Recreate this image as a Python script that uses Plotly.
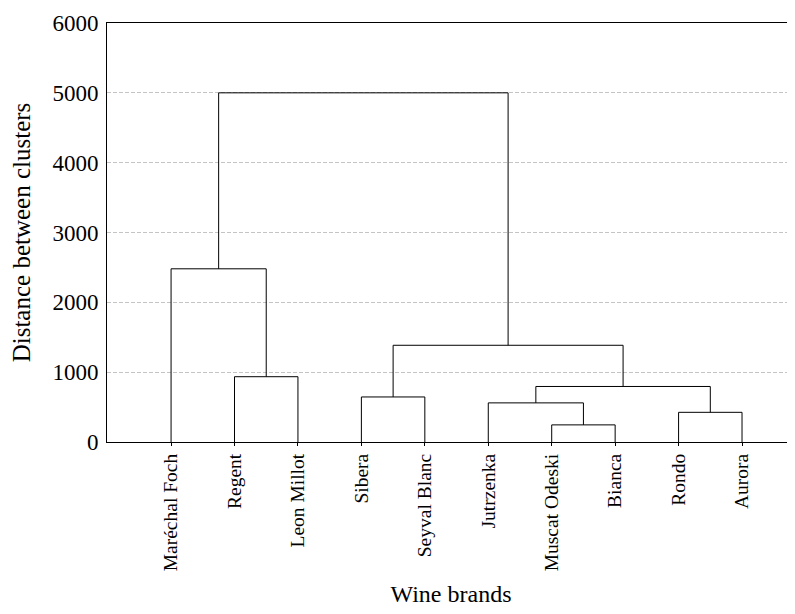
import plotly.graph_objects as go

# Leaves (wine brands) in dendrogram order
labels = ["Maréchal Foch", "Regent", "Leon Millot", "Sibera", "Seyval Blanc",
          "Jutrzenka", "Muscat Odeski", "Bianca", "Rondo", "Aurora"]

# Linkage: each merge joins two nodes (ids 0-9 are leaves, 10+ are merges in order)
merge_left = [6, 8, 5, 3, 12, 1, 13, 0, 17]
merge_right = [7, 9, 10, 4, 11, 2, 14, 15, 16]
merge_height = [245, 425, 560, 645, 795, 935, 1385, 2480, 5000]

y_ticks = [0, 1000, 2000, 3000, 4000, 5000, 6000]

n = len(labels)
node_x = {i: float(i) for i in range(n)}
node_y = {i: 0.0 for i in range(n)}

xs, ys = [], []
for k, (a, b, h) in enumerate(zip(merge_left, merge_right, merge_height)):
    xa, xb = node_x[a], node_x[b]
    xs += [xa, xa, xb, xb, None]
    ys += [node_y[a], h, h, node_y[b], None]
    node_x[n + k] = (xa + xb) / 2
    node_y[n + k] = h

FONT = "Liberation Serif, Times New Roman, serif"

fig = go.Figure()
fig.add_trace(go.Scatter(x=xs, y=ys, mode="lines",
                         line=dict(color="black", width=1),
                         hoverinfo="skip", showlegend=False))

# page body has an 8px margin, so the figure is sized/offset accordingly
fig.update_layout(
    width=787, height=606,
    margin=dict(l=99, r=0, t=15, b=172),
    paper_bgcolor="white", plot_bgcolor="white",
    font=dict(family=FONT, size=22, color="black"),
    showlegend=False,
)
fig.update_xaxes(
    range=[-1.01, 9.835], automargin=False,
    tickmode="array", tickvals=list(range(n)), ticktext=labels,
    tickangle=-90, tickfont=dict(size=19.5),
    ticks="outside", ticklen=3, tickcolor="black",
    showline=True, linecolor="black", linewidth=1, mirror=True,
    showgrid=False, zeroline=False,
    title=dict(text="Wine brands", font=dict(size=24), standoff=14),
)
fig.update_yaxes(
    range=[0, 6000], automargin=False,
    tickmode="array", tickvals=y_ticks, tickfont=dict(size=23),
    ticks="", ticklabelstandoff=3,
    showline=True, linecolor="black", linewidth=1,
    showgrid=True, gridcolor="#c4c4c4", griddash="4px,2px", gridwidth=1,
    zeroline=False,
    title=dict(text="Distance between clusters", font=dict(size=25), standoff=18),
)

fig.write_html("out.html")
